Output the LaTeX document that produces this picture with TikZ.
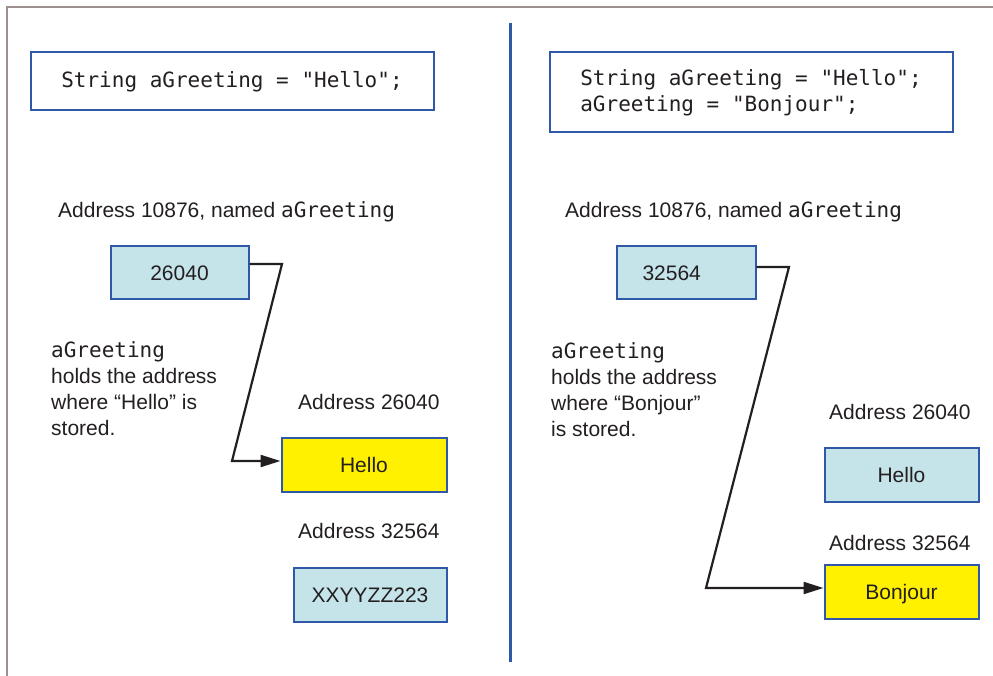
\documentclass[tikz,border=0pt]{standalone}
\usepackage{fontspec}
\setmainfont{Liberation Sans}
\setmonofont{DejaVu Sans Mono}
\usetikzlibrary{arrows.meta}
\definecolor{bord}{HTML}{2F58A8}
\definecolor{cell}{HTML}{C5E4EA}
\definecolor{hl}{HTML}{FFF100}
\definecolor{framegray}{HTML}{9C918F}
\definecolor{ink}{HTML}{231F20}
\begin{document}
\begin{tikzpicture}[x=1pt,y=-1pt, font=\fontsize{21}{26}\selectfont, text=ink,
  codebox/.style={draw=bord, line width=2pt, fill=white, align=left,
    font=\fontsize{21}{26}\selectfont\ttfamily, inner sep=0pt},
  cellbox/.style={draw=bord, line width=2pt, fill=cell, inner sep=0pt,
    text height=15.2pt, text depth=0pt},
  hlbox/.style={cellbox, fill=hl},
  lbl/.style={inner sep=0pt, anchor=base west},
  note/.style={inner sep=0pt, anchor=north west, align=left},
  ptr/.style={draw=ink, line width=2.2pt, -{Triangle[length=20pt,width=12pt]}},
]
\useasboundingbox (0,0) rectangle (993,676);
% outer frame and divider
\draw[framegray, line width=2pt] (993,7) -- (7,7) -- (7,676);
\draw[bord, line width=3pt] (510,23) -- (510,662);

% left panel
\node[codebox, minimum width=403pt, minimum height=58pt] (code1) at (232,81.5)
  {String aGreeting = "Hello";};
\node[lbl] (nameL) at (58,218) {Address 10876, named \texttt{aGreeting}};
\node[cellbox, minimum width=138pt, minimum height=53pt] (ptrL) at (179.5,273) {26040};
\node[note] (noteL) at (51,341)
  {\texttt{aGreeting}\\holds the address\\where “Hello” is\\stored.};
\node[lbl] (a26L) at (298,409) {Address 26040};
\node[hlbox, minimum width=165pt, minimum height=54pt] (helloL) at (364,464.5) {Hello};
\node[lbl] (a32L) at (298,538) {Address 32564};
\node[cellbox, minimum width=153pt, minimum height=54pt] (xxL) at (370,594.5) {XXYYZZ223};

\coordinate (l1) at (282,264);
\coordinate (l2) at (232,461);
\draw[ptr] ([yshift=9pt]ptrL.east) -- (l1) -- (l2) -- (l2 -| helloL.west);

% right panel
\node[codebox, minimum width=403pt, minimum height=80pt] (code2) at (751,92.5)
  {String aGreeting = "Hello";\\aGreeting = "Bonjour";};
\node[lbl] (nameR) at (565,218) {Address 10876, named \texttt{aGreeting}};
\node[cellbox, minimum width=139pt, minimum height=53pt, text width=87pt, align=left]
  (ptrR) at (686,273) {32564};
\node[note] (noteR) at (551,342)
  {\texttt{aGreeting}\\holds the address\\where “Bonjour”\\is stored.};
\node[lbl] (a26R) at (829,419) {Address 26040};
\node[cellbox, minimum width=154pt, minimum height=54pt] (helloR) at (901.5,474.5) {Hello};
\node[lbl] (a32R) at (829,550) {Address 32564};
\node[hlbox, minimum width=154pt, minimum height=54pt] (bonR) at (901.5,591.5) {Bonjour};

\coordinate (r1) at (789,267);
\coordinate (r2) at (706,588);
\draw[ptr] ([yshift=6pt]ptrR.east) -- (r1) -- (r2) -- (r2 -| bonR.west);
\end{tikzpicture}
\end{document}
